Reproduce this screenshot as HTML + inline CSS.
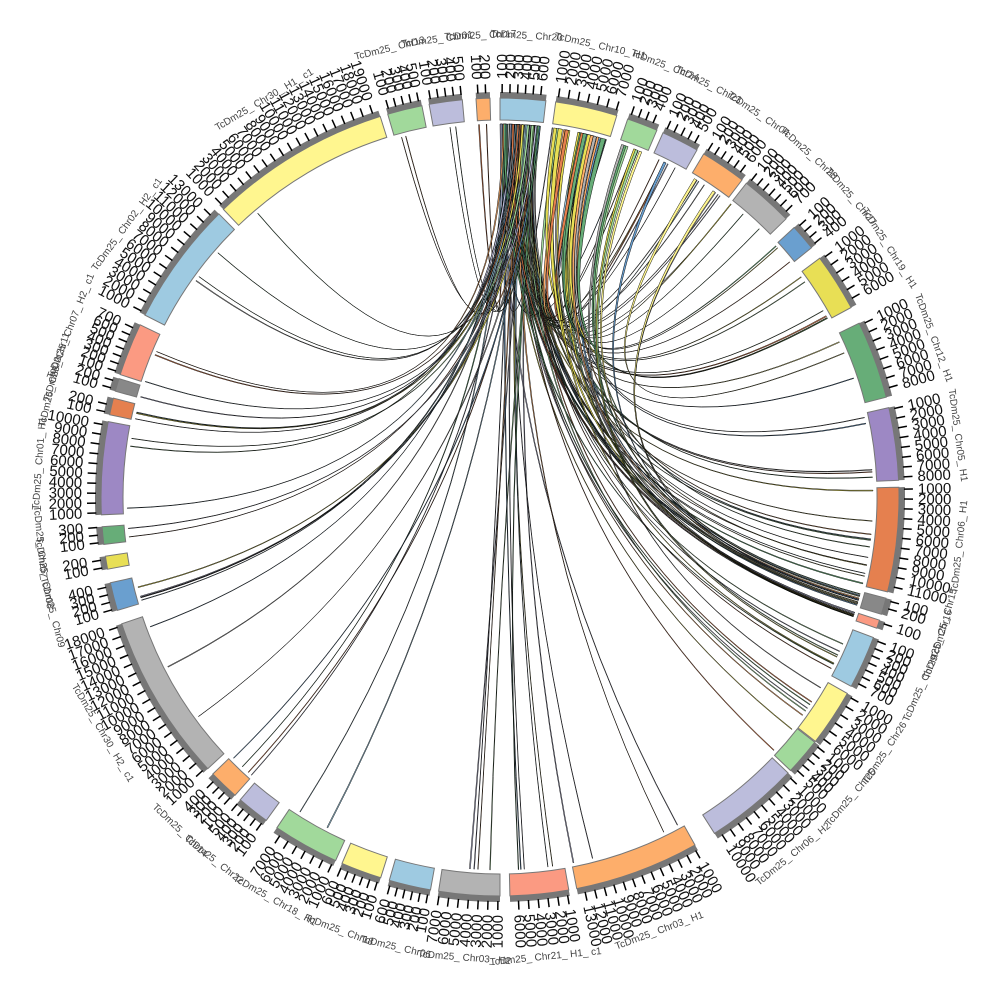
<!DOCTYPE html>
<html><head><meta charset="utf-8"><style>
html,body{margin:0;padding:0;background:#fff;width:1000px;height:1000px;overflow:hidden}
svg text{font-family:"Liberation Sans",sans-serif}
</style></head><body>
<svg id="s" width="1000" height="1000" viewBox="0 0 1000 1000" xmlns="http://www.w3.org/2000/svg"></svg>
<script>
const CX=500,CY=497,R0=377,R1=399;
const segs=[
[[500,98],[546,100],'#9ecae1','TcDm25_Chr20'],
[[556,100],[617,115],'#fff68f','TcDm25_Chr10_H1'],
[[628,118],[657,130],'#a1d99b','TcDm25_Chr24'],
[[662,135],[697,150],'#bcbddc','TcDm25_Chr23'],
[[703,155],[742,180],'#fdae6b','TcDm25_Chr04'],
[[745,185],[790,215],'#b3b3b3','TcDm25_Chr28'],
[[797,225],[815,245],'#6a9fcf','TcDm25_Chr27'],
[[820,258],[865,300],'#e8df55','TcDm25_Chr19_H1'],
[[870,318],[895,395],'#67ad78','TcDm25_Chr12_H1'],
[[900,405],[905,480],'#9d88c4','TcDm25_Chr05_H1'],
[[905,487],[900,595],'#e5804f','TcDm25_Chr06_H1'],
[[893,600],[890,617],'#888888','TcDm25_Chr15'],
[[885,622],[882,630],'#fb9a82','TcDm25_Chr16'],
[[880,640],[858,690],'#9ecae1','TcDm25_Chr29'],
[[850,695],[820,745],'#fff68f','TcDm25_Chr26'],
[[812,740],[790,770],'#a1d99b','TcDm25_Chr25'],
[[785,770],[720,842],'#bcbddc','TcDm25_Chr06_H2'],
[[695,845],[578,895],'#fdae6b','TcDm25_Chr03_H1'],
[[570,897],[510,898],'#fb9a82','TcDm25_Chr21_H1_c1'],
[[500,898],[438,895],'#b3b3b3','TcDm25_Chr03_H2'],
[[430,893],[388,885],'#9ecae1','TcDm25_Chr06'],
[[380,880],[340,868],'#fff68f','TcDm25_Chr18'],
[[335,862],[272,835],'#a1d99b','TcDm25_Chr18_H1'],
[[268,818],[240,800],'#bcbddc','TcDm25_Chr22'],
[[238,792],[217,770],'#fdae6b','TcDm25_Chr14'],
[[215,762],[118,625],'#b3b3b3','TcDm25_Chr30_H2_c1'],
[[112,612],[100,585],'#6a9fcf','TcDm25_Chr09'],
[[103,570],[100,557],'#e8df55','TcDm25_Chr08'],
[[99,545],[98,527],'#67ad78','TcDm25_Chr07'],
[[98,515],[100,420],'#9d88c4','TcDm25_Chr01_H1'],
[[106,414],[109,397],'#e5804f','TcDm25_Chr02'],
[[111,390],[114,377],'#888888','TcDm25_Chr11'],
[[112,372],[130,320],'#fb9a82','TcDm25_Chr07_H2_c1'],
[[135,310],[218,213],'#9ecae1','TcDm25_Chr02_H2_c1'],
[[222,208],[375,100],'#fff68f','TcDm25_Chr30_H1_c1'],
[[383,98],[420,96],'#a1d99b','TcDm25_Chr13'],
[[428,98],[462,97],'#bcbddc','TcDm25_Chr01'],
[[476,98],[490,98],'#fdae6b','TcDm25_Chr17'],
];
function ang(p){let a=Math.atan2(p[0]-CX,CY-p[1])*180/Math.PI;if(a<0)a+=360;return a;}
function pt(a,r){const t=a*Math.PI/180;return [CX+r*Math.sin(t),CY-r*Math.cos(t)];}
function f(p){return p[0].toFixed(1)+','+p[1].toFixed(1);}
function arc(a1,a2,ra,rb){const l=(a2-a1)>180?1:0;
 return 'M'+f(pt(a1,ra))+'A'+ra+','+ra+' 0 '+l+' 1 '+f(pt(a2,ra))+'L'+f(pt(a2,rb))+'A'+rb+','+rb+' 0 '+l+' 0 '+f(pt(a1,rb))+'Z';}
let S=[];
const S2=segs.map(s=>{let a1=ang(s[0]),a2=ang(s[1]);if(a2<a1&&a1-a2>180)a2+=360;return {a1,a2,c:s[2],n:s[3]};});
let seed=11;function rnd(){seed=(seed*16807)%2147483647;return seed/2147483647;}
const Rl=373;
function link(a1,w1,a2,w2,col,sw){
 const p1=pt(a1,Rl),p2=pt(a1+w1,Rl),p3=pt(a2,Rl),p4=pt(a2+w2,Rl);
 const c=[CX,CY];
 return '<path d="M'+f(p1)+'A'+Rl+','+Rl+' 0 0 1 '+f(p2)+'Q'+f(c)+' '+f(p3)+'A'+Rl+','+Rl+' 0 0 1 '+f(p4)+'Q'+f(c)+' '+f(p1)+'Z" fill="'+col+'" stroke="#000" stroke-width="'+sw+'"/>';
}
let L=[];
const cols=['#fff68f','#9ecae1','#a1d99b','#e8df55','#fdae6b','#bcbddc','#6a9fcf','#67ad78','#e5804f','#b3b3b3'];
for(let i=0;i<95;i++){
 const src=S2[0];const a=src.a1+rnd()*(src.a2-src.a1-0.6);
 let t=S2[1+Math.floor(rnd()*(S2.length-1))];
 if(rnd()<0.15)t=S2[7+Math.floor(rnd()*10)];
 const b=t.a1+rnd()*(t.a2-t.a1-0.3);
 L.push(link(a,0.15+rnd()*0.2,b,0.05+rnd()*0.1,cols[Math.floor(rnd()*cols.length)],0.45));
}
for(let i=0;i<30;i++){
 const src=S2[1];const a=src.a1+rnd()*(src.a2-src.a1-0.6);
 const t=S2[2+Math.floor(rnd()*12)];
 const b=t.a1+rnd()*(t.a2-t.a1-0.3);
 L.push(link(a,0.3+rnd()*0.4,b,0.05+rnd()*0.1,cols[Math.floor(rnd()*cols.length)],0.45));
}
for(let i=0;i<10;i++){
 const src=S2[2+Math.floor(rnd()*3)];const a=src.a1+rnd()*(src.a2-src.a1-0.6);
 const t=S2[8+Math.floor(rnd()*8)];
 const b=t.a1+rnd()*(t.a2-t.a1-0.3);
 L.push(link(a,0.4,b,0.1,cols[Math.floor(rnd()*cols.length)],0.45));
}
S.push(L.join(''));
let T=[];
S2.forEach((s,idx)=>{
 S.push('<path d="'+arc(s.a1,s.a2,R1,R0)+'" fill="'+s.c+'" stroke="#777" stroke-width="1"/>');
 S.push('<path d="'+arc(s.a1,s.a2,R1+6,R1)+'" fill="#777"/>');
 const span=s.a2-s.a1;
 const step=span>8?1.4:1.1;let k=0;
 for(let a=s.a1+0.3;a<=s.a2+0.01;a+=step){k++;
  const p1=pt(a,R1+5),p2=pt(a,R1+14);
  T.push('<line x1="'+p1[0].toFixed(1)+'" y1="'+p1[1].toFixed(1)+'" x2="'+p2[0].toFixed(1)+'" y2="'+p2[1].toFixed(1)+'" stroke="#000" stroke-width="1.5"/>');
  const m=((a%360)+360)%360;
  const q=pt(a,R1+19);
  let rot,anc;
  if(m<180){rot=m-90;anc='start';}else{rot=m+90;anc='end';}
  const lab=span>8?String(k*1000):String(k*100);
  T.push('<text x="'+q[0].toFixed(1)+'" y="'+q[1].toFixed(1)+'" font-size="15" dy="5" text-anchor="'+anc+'" transform="rotate('+rot.toFixed(1)+' '+q[0].toFixed(1)+' '+q[1].toFixed(1)+')" fill="#111">'+lab+'</text>');
 }
 const mid=(s.a1+s.a2)/2,m=((mid%360)+360)%360;
 const q=pt(mid,462);
 const rot=(m>90&&m<270)?m-180:m;
 T.push('<text x="'+q[0].toFixed(1)+'" y="'+q[1].toFixed(1)+'" font-size="10" text-anchor="middle" dy="3" transform="rotate('+rot.toFixed(1)+' '+q[0].toFixed(1)+' '+q[1].toFixed(1)+')" fill="#444">'+s.n.replace(/_/g,'_ ')+'</text>');
});
S.push(T.join(''));
document.getElementById('s').innerHTML=S.join('');
</script>
</body></html>
